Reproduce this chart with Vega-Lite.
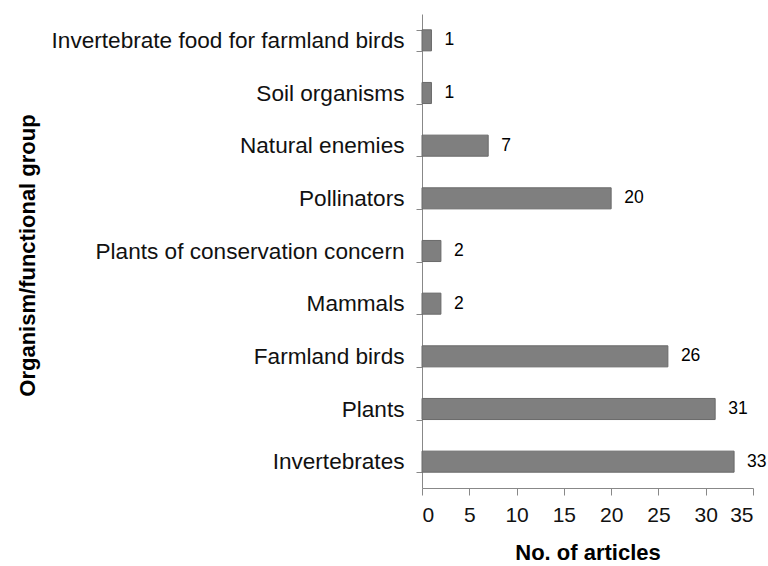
{
  "$schema": "https://vega.github.io/schema/vega-lite/v6.json",
  "width": 331,
  "height": 474,
  "autosize": {"type": "none"},
  "padding": {"left": 422, "top": 14, "right": 15, "bottom": 78},
  "background": "white",
  "data": {"values": [
    {"group": "Invertebrate food for farmland birds", "n": 1},
    {"group": "Soil organisms", "n": 1},
    {"group": "Natural enemies", "n": 7},
    {"group": "Pollinators", "n": 20},
    {"group": "Plants of conservation concern", "n": 2},
    {"group": "Mammals", "n": 2},
    {"group": "Farmland birds", "n": 26},
    {"group": "Plants", "n": 31},
    {"group": "Invertebrates", "n": 33}
  ]},
  "encoding": {
    "y": {
      "field": "group", "type": "nominal", "sort": null,
      "scale": {"paddingInner": 0.6, "paddingOuter": 0.3},
      "axis": {
        "title": "Organism/functional group",
        "titleFont": "Liberation Sans", "titleFontSize": 22, "titleFontWeight": "bold", "titleColor": "#000",
        "titleX": -395, "titleY": 241, "titleAngle": -90, "titleBaseline": "middle", "titleAlign": "center",
        "labelFont": "Liberation Sans", "labelFontSize": 22.6, "labelColor": "#111", "labelPadding": 12,
        "labelLimit": 400,
        "tickBand": "extent", "tickSize": 6, "tickColor": "#888", "domainColor": "#888",
        "grid": false
      }
    },
    "x": {
      "field": "n", "type": "quantitative",
      "scale": {"domain": [0, 35], "nice": false},
      "axis": {
        "title": "No. of articles",
        "titleFont": "Liberation Sans", "titleFontSize": 22, "titleFontWeight": "bold", "titleColor": "#000",
        "titlePadding": 17,
        "values": [0, 5, 10, 15, 20, 25, 30, 35],
        "labelFont": "Liberation Sans", "labelFontSize": 21, "labelColor": "#111", "labelPadding": 9,
        "tickSize": 7, "tickColor": "#888", "domainColor": "#888",
        "grid": false
      }
    }
  },
  "layer": [
    {"mark": {"type": "bar", "color": "#7f7f7f", "stroke": "#6a6a6a", "strokeWidth": 1}},
    {"mark": {"type": "text", "align": "left", "dx": 13, "font": "Liberation Sans", "fontSize": 17.5, "color": "#000"},
     "encoding": {"text": {"field": "n", "type": "quantitative"}}}
  ],
  "config": {"view": {"stroke": null}}
}
